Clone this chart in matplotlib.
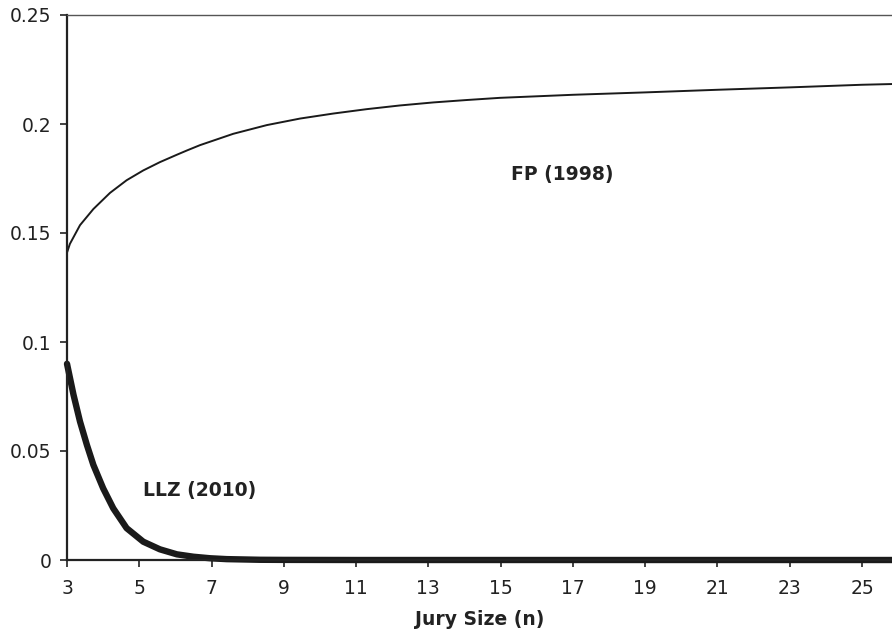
import matplotlib
matplotlib.use("Agg")
import matplotlib.pyplot as plt

plt.rcParams['font.family'] = ['DejaVu Sans']

fp_n = [3.0, 3.08, 3.36, 3.73, 4.19, 4.65, 5.11, 5.57, 6.04, 6.31, 6.68, 7.60, 8.53, 9.45,
        10.37, 11.29, 12.21, 13.14, 14.06, 14.98, 17.0, 19.0, 21.0, 23.0, 25.0, 26.0]
fp_1998 = [0.1410, 0.1450, 0.1536, 0.1610, 0.1684, 0.1742, 0.1787, 0.1825, 0.1859, 0.1878,
           0.1903, 0.1955, 0.1995, 0.2025, 0.2048, 0.2068, 0.2085, 0.2099, 0.2110, 0.2120,
           0.2134, 0.2145, 0.2157, 0.2168, 0.2180, 0.2184]

llz_n = [3.0, 3.18, 3.36, 3.55, 3.73, 4.00, 4.28, 4.65, 5.11, 5.57, 6.04, 6.50, 6.96, 7.42,
         8.34, 9.0, 11.0, 15.0, 20.0, 26.0]
llz_2010 = [0.0900, 0.0758, 0.0635, 0.0528, 0.0436, 0.0329, 0.0237, 0.0146, 0.0084, 0.0049,
            0.0026, 0.0015, 0.0008, 0.0004, 0.0001, 0.00005, 0.0, 0.0, 0.0, 0.0]

xticks = [3, 5, 7, 9, 11, 13, 15, 17, 19, 21, 23, 25]
yticks = [0, 0.05, 0.1, 0.15, 0.2, 0.25]
ytick_labels = ['0', '0.05', '0.1', '0.15', '0.2', '0.25']

fig = plt.figure(figsize=(8.92, 6.35), dpi=100)
ax = fig.add_axes([67/892, 1-560/635, 1-67/892, (560-15)/635])

ax.plot(fp_n, fp_1998, color='#1a1a1a', lw=1.4, solid_capstyle='round', solid_joinstyle='round')
ax.plot(llz_n, llz_2010, color='#1a1a1a', lw=4.6, solid_capstyle='round',
        solid_joinstyle='round', clip_on=False)

ax.set_xlim(3, 25.83)
ax.set_ylim(0, 0.25)
ax.set_xticks(xticks)
ax.set_yticks(yticks)
ax.set_yticklabels(ytick_labels)

for s in ['left', 'bottom']:
    ax.spines[s].set_color('#222222')
    ax.spines[s].set_linewidth(1.6)
ax.spines['top'].set_color('#555555')
ax.spines['top'].set_linewidth(1.0)
ax.spines['right'].set_visible(False)

ax.tick_params(axis='both', direction='out', length=5, width=1.2, color='#222222',
               labelsize=13.5, labelcolor='#222222')
ax.tick_params(axis='x', pad=9)
ax.tick_params(axis='y', pad=6)

ax.set_xlabel('Jury Size (n)', fontsize=13.5, fontweight='bold', color='#222222', labelpad=8)

ax.text(16.7, 0.1768, 'FP (1998)', fontsize=13.5, fontweight='bold', color='#222222',
        ha='center', va='center')
ax.text(6.68, 0.0318, 'LLZ (2010)', fontsize=13.5, fontweight='bold', color='#222222',
        ha='center', va='center')

fig.savefig('out.png', dpi=100)
